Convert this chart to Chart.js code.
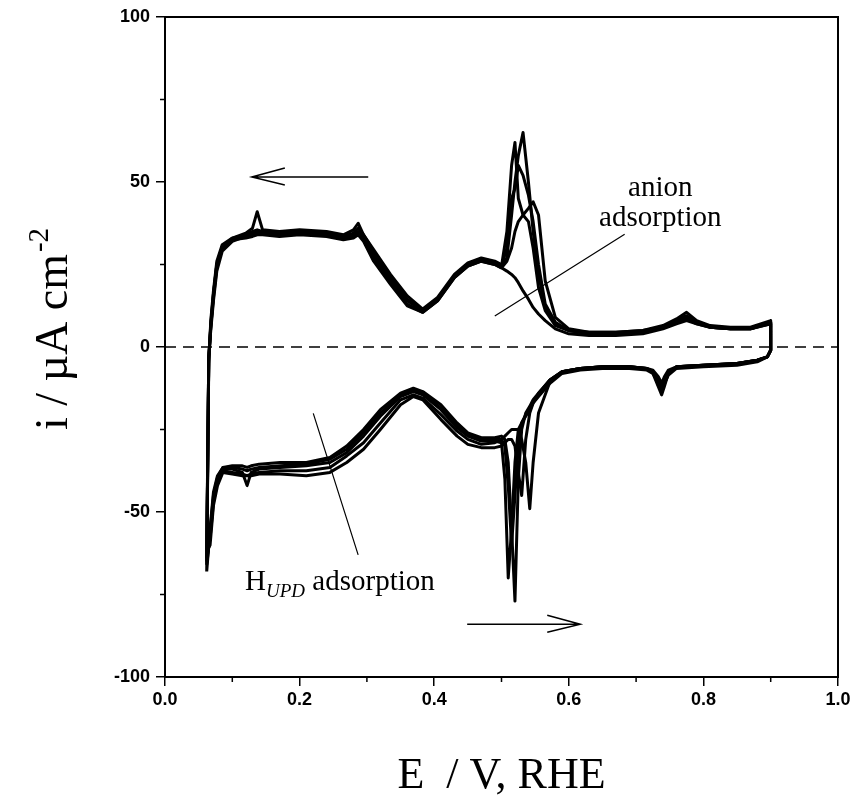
<!DOCTYPE html>
<html>
<head>
<meta charset="utf-8">
<script src="https://cdn.jsdelivr.net/npm/chart.js@4.4.1/dist/chart.umd.min.js"></script>
<style>
  html, body { margin: 0; padding: 0; background: #fff; }
  #wrap { width: 858px; height: 803px; }
</style>
</head>
<body>
<div id="wrap"><canvas id="cv" width="858" height="803"></canvas></div>
<script>
// potential grid (V vs RHE) for the positive-current branch and the negative-current branch
const potentialUp = [0.062, 0.065, 0.068, 0.072, 0.077, 0.085, 0.10, 0.12, 0.13, 0.137,
  0.145, 0.17, 0.20, 0.24, 0.265, 0.28, 0.287, 0.295, 0.31, 0.335,
  0.36, 0.383, 0.405, 0.43, 0.45, 0.47, 0.49, 0.50, 0.508, 0.515,
  0.52, 0.525, 0.532, 0.54, 0.547, 0.555, 0.565, 0.58, 0.60, 0.63,
  0.67, 0.71, 0.74, 0.76, 0.775, 0.79, 0.81, 0.84, 0.87, 0.9];
const potentialDown = [0.9, 0.895, 0.88, 0.85, 0.80, 0.76, 0.748, 0.742, 0.738, 0.733,
  0.725, 0.716, 0.69, 0.65, 0.617, 0.59, 0.572, 0.555, 0.547, 0.542,
  0.536, 0.53, 0.525, 0.52, 0.515, 0.51, 0.505, 0.50, 0.49, 0.47,
  0.45, 0.434, 0.41, 0.383, 0.369, 0.35, 0.32, 0.295, 0.27, 0.245,
  0.21, 0.171, 0.14, 0.128, 0.122, 0.115, 0.10, 0.086, 0.078, 0.072,
  0.067, 0.062];

// current density, uA cm-2, one pair of arrays per recorded cycle
const cycle1Up = [-68, -5, 8, 17, 26, 31, 33, 34.5, 36, 41,
  35.5, 35, 35.5, 35, 34, 35.5, 37.5, 34, 29.5, 22,
  15.5, 11.5, 15, 22, 25.5, 27, 26, 25, 27, 40,
  50, 58, 65, 50, 35, 22, 12, 7, 5, 4.5,
  4.5, 5, 6.5, 8.5, 10.5, 8, 6.5, 6, 6, 8];
const cycle1Down = [-1, -3, -4, -5, -5.5, -6, -8, -12, -14.5, -12,
  -8, -6.5, -6, -6, -6.5, -7.5, -10, -14, -16, -18,
  -20, -25, -40, -77, -55, -35, -28, -27, -27.5, -27.5,
  -26, -23, -17.5, -13.5, -12.5, -14, -19, -25, -30, -33.5,
  -35, -35, -35.5, -36, -36.5, -36, -36, -36.5, -39, -44,
  -55, -68];

const cycle2Up = [-66, -4, 6, 15, 24, 30, 32.5, 34, 34.5, 35,
  35, 34.5, 35, 34.5, 33.5, 34, 35, 33.5, 28, 20.5,
  14, 11, 14.5, 21.5, 25, 26.5, 25.5, 24.5, 35, 55,
  62, 45, 40, 38, 30, 18, 11, 6.5, 5, 4,
  4, 4.5, 6, 8, 9.5, 7.5, 6, 5.5, 5.5, 7.5];
const cycle2Down = [-1, -3, -4.5, -5.5, -6, -6.5, -8.5, -11, -13, -11,
  -8, -7, -6.5, -6.5, -7, -8, -11, -15, -17, -19,
  -21, -23, -25, -35, -55, -70, -40, -29, -28.5, -28.5,
  -27, -24.5, -19, -14.5, -13.5, -15, -21, -27, -32, -35,
  -36, -36.5, -37, -38, -42, -38, -37, -37, -40, -46,
  -57, -66];

const cycle3Up = [-64, -3, 5, 14, 23, 29, 32, 33.5, 34, 34.5,
  34.5, 34, 34.5, 34, 33, 33.5, 34.5, 33, 27, 19.5,
  13, 10.5, 14, 21, 24.5, 26, 25, 24, 26, 30,
  35, 38, 40, 42, 44, 40, 20, 9, 5.5, 4.5,
  4.5, 5, 6, 7.5, 8.5, 7, 6, 5.5, 5.5, 7];
const cycle3Down = [-1, -3, -4, -5, -5.5, -6, -7.5, -10, -12, -10,
  -7.5, -6.5, -6, -6, -6.5, -7.5, -10.5, -20, -35, -49,
  -35, -28, -25, -25, -25, -26, -27, -28, -29, -29.5,
  -28, -25.5, -20.5, -15.5, -14.5, -16, -23, -29, -33, -36.5,
  -37.5, -37.5, -38, -38.5, -39, -38.5, -38, -37.5, -41, -47,
  -58, -64];

const cycle4Up = [-62, -3, 6, 16, 25, 30.5, 32.5, 33, 33.5, 34,
  34, 33.5, 34, 33.5, 32.5, 33, 34, 32, 26, 19,
  12.5, 10.5, 14, 21, 24.5, 26, 25, 24, 23, 22,
  21, 19.5, 17, 14.5, 12, 10, 8, 5.5, 4, 3.5,
  3.5, 4, 5.5, 7, 8, 7, 6, 5.5, 5.5, 7];
const cycle4Down = [-1, -3, -4, -5, -5.5, -6, -7, -9, -11, -9,
  -7, -6.5, -6, -6, -6.5, -7.5, -10, -14, -17, -20,
  -28, -45, -38, -30, -28, -28, -29, -30, -30.5, -30.5,
  -29.5, -27, -22, -16, -15, -17.5, -25, -31, -35, -38,
  -39, -38.5, -38.5, -39, -39, -39, -38.5, -38, -42, -48,
  -60, -62];

const cycle5Up = [-65, -4, 7, 16, 25, 30, 33, 34, 35, 35.5,
  35, 34.5, 35, 34.5, 33.5, 34.5, 36, 34, 29, 21,
  14.5, 11, 14.5, 21.5, 25, 26.5, 25.5, 24.5, 30, 45,
  48, 55, 52, 46, 38, 25, 13, 7.5, 5, 4,
  4, 4.5, 6, 7.5, 9, 7.5, 6, 5.5, 5.5, 7.5];
const cycle5Down = [-1, -3, -4, -5, -5.5, -6, -8, -11, -13.5, -11,
  -7.5, -6.5, -6, -6, -6.5, -7.5, -10, -14.5, -16.5, -18.5,
  -20.5, -23, -30, -45, -60, -42, -30, -28, -28, -28,
  -26.5, -24, -18.5, -14, -13, -14.5, -20, -26, -31, -34,
  -35.5, -36, -36.5, -37, -37.5, -37, -36.5, -36.5, -39.5, -45,
  -56, -65];

const zeroLineE = [0, 1];
const zeroLineI = [0, 0];

const xTicks = [0, 0.2, 0.4, 0.6, 0.8, 1.0];
const yTicks = [-100, -50, 0, 50, 100];
const xMinor = [0.1, 0.3, 0.5, 0.7, 0.9];
const yMinor = [-75, -25, 25, 75];

const cycles = [
  [cycle1Up, cycle1Down], [cycle2Up, cycle2Down], [cycle3Up, cycle3Down],
  [cycle4Up, cycle4Down], [cycle5Up, cycle5Down]
];

function loop(up, down) {
  const a = potentialUp.map((e, k) => ({ x: e, y: up[k] }));
  const b = potentialDown.map((e, k) => ({ x: e, y: down[k] }));
  return a.concat(b);
}

const datasets = cycles.map(c => ({
  data: loop(c[0], c[1]),
  showLine: true,
  borderColor: '#000',
  borderWidth: 3,
  borderJoinStyle: 'round',
  pointRadius: 0,
  tension: 0,
  fill: false
}));
datasets.push({
  data: zeroLineE.map((e, k) => ({ x: e, y: zeroLineI[k] })),
  showLine: true,
  borderColor: '#000',
  borderWidth: 1.5,
  borderDash: [11, 7],
  pointRadius: 0
});

const serif = "'Liberation Serif', 'Times New Roman', serif";
const sans = "'Liberation Sans', Arial, sans-serif";

// annotations, placed in data units
const decor = {
  id: 'decor',
  afterDraw(chart) {
    const ctx = chart.ctx;
    const a = chart.chartArea;
    const xs = chart.scales.x, ys = chart.scales.y;
    const px = v => xs.getPixelForValue(v);
    const py = v => ys.getPixelForValue(v);
    ctx.save();
    ctx.strokeStyle = '#000';
    ctx.fillStyle = '#000';

    // frame
    ctx.lineWidth = 2;
    ctx.strokeRect(a.left, a.top, a.right - a.left, a.bottom - a.top);

    // minor ticks
    ctx.lineWidth = 1.5;
    ctx.beginPath();
    xMinor.forEach(v => { ctx.moveTo(px(v), a.bottom); ctx.lineTo(px(v), a.bottom + 5); });
    yMinor.forEach(v => { ctx.moveTo(a.left, py(v)); ctx.lineTo(a.left - 5, py(v)); });
    ctx.stroke();

    // y title with superscript
    ctx.save();
    ctx.translate(67, 330);
    ctx.rotate(-Math.PI / 2);
    ctx.textBaseline = 'alphabetic';
    ctx.font = '46px ' + serif;
    const main = 'i / \u00b5A cm';
    const w1 = ctx.measureText(main).width;
    ctx.font = '29px ' + serif;
    const w2 = ctx.measureText('-2').width;
    let x0 = -(w1 + w2) / 2;
    ctx.font = '46px ' + serif;
    ctx.fillText(main, x0, 0);
    ctx.font = '29px ' + serif;
    ctx.fillText('-2', x0 + w1 + 2, -19);
    ctx.restore();

    // arrows
    function arrow(e0, e1, i) {
      const x0 = px(e0), x1 = px(e1), y = py(i);
      const dir = Math.sign(x1 - x0);
      ctx.lineWidth = 1.5;
      ctx.beginPath();
      ctx.moveTo(x0, y); ctx.lineTo(x1, y);
      ctx.moveTo(x1 - dir * 33, y - 9); ctx.lineTo(x1, y); ctx.lineTo(x1 - dir * 33, y + 8);
      ctx.stroke();
    }
    arrow(0.302, 0.129, 51.5);
    arrow(0.449, 0.617, -84);

    // leader lines
    ctx.lineWidth = 1.2;
    ctx.beginPath();
    ctx.moveTo(px(0.49), py(9.4)); ctx.lineTo(px(0.683), py(34.2));
    ctx.moveTo(px(0.2203), py(-20.1)); ctx.lineTo(px(0.287), py(-63));
    ctx.stroke();

    // labels
    ctx.font = '29px ' + serif;
    ctx.textAlign = 'center';
    ctx.textBaseline = 'middle';
    ctx.fillText('anion', px(0.736), py(48.2));
    ctx.fillText('adsorption', px(0.736), py(39));

    ctx.textAlign = 'left';
    ctx.textBaseline = 'alphabetic';
    let hx = px(0.119);
    const hy = py(-73.6);
    ctx.font = '29px ' + serif;
    ctx.fillText('H', hx, hy);
    hx += ctx.measureText('H').width;
    ctx.font = 'italic 19px ' + serif;
    ctx.fillText('UPD', hx, hy + 7);
    hx += ctx.measureText('UPD').width;
    ctx.font = '29px ' + serif;
    ctx.fillText(' adsorption', hx, hy);

    ctx.restore();
  }
};

new Chart(document.getElementById('cv').getContext('2d'), {
  type: 'scatter',
  data: { datasets: datasets },
  options: {
    responsive: false,
    animation: false,
    devicePixelRatio: 1,
    layout: { padding: { left: 0, top: 17, right: 20, bottom: 0 } },
    plugins: { legend: { display: false }, tooltip: { enabled: false } },
    scales: {
      x: {
        type: 'linear',
        min: 0,
        max: 1,
        afterBuildTicks: s => { s.ticks = xTicks.map(v => ({ value: v })); },
        afterFit: s => { s.height = 126; },
        ticks: {
          callback: v => v.toFixed(1),
          font: { family: sans, size: 18, weight: 'bold' },
          color: '#000',
          padding: 3,
          maxRotation: 0,
          autoSkip: false
        },
        grid: { drawOnChartArea: false, drawTicks: true, tickLength: 9, color: '#000', lineWidth: 1.5 },
        border: { color: '#000', width: 2 },
        title: {
          display: true,
          text: 'E  / V, RHE',
          color: '#000',
          font: { family: serif, size: 44 },
          padding: { top: 0, bottom: 0 }
        }
      },
      y: {
        type: 'linear',
        min: -100,
        max: 100,
        afterBuildTicks: s => { s.ticks = yTicks.map(v => ({ value: v })); },
        afterFit: s => { s.width = 165; },
        ticks: {
          font: { family: sans, size: 18, weight: 'bold' },
          color: '#000',
          padding: 6
        },
        grid: { drawOnChartArea: false, drawTicks: true, tickLength: 9, color: '#000', lineWidth: 1.5 },
        border: { color: '#000', width: 2 }
      }
    }
  },
  plugins: [decor]
});
</script>
</body>
</html>
